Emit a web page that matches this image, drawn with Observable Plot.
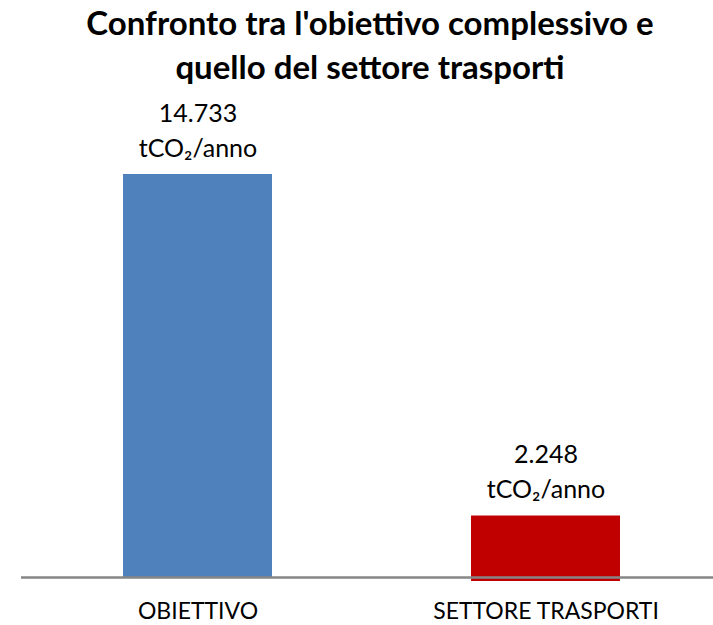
<!DOCTYPE html>
<html>
<head>
<meta charset="utf-8">
<script src="https://cdn.jsdelivr.net/npm/d3@7"></script>
<script src="https://cdn.jsdelivr.net/npm/@observablehq/plot@0.6"></script>
<style>
  html, body { margin: 0; padding: 0; background: #fff; }
  #title { width: 713px; height: 88px; text-align: center; font-family: Lato, "Open Sans", sans-serif; font-weight: 700; font-size: 33px; line-height: 44px; color: #000; padding-left: 27px; padding-top: 0px; box-sizing: border-box; white-space: nowrap; }
  #chart svg { display: block; }
</style>
</head>
<body>
<div id="title">Confronto tra l'obiettivo complessivo e<br>quello del settore trasporti</div>
<div id="chart"></div>
<script>
const categories = ["OBIETTIVO", "SETTORE TRASPORTI"];
const values = [14733, 2248];
const valueLabels = ["14.733", "2.248"];
const unitLabel = "tCO₂/anno";
const colors = ["#4F81BD", "#C00000"];

const data = categories.map((c, i) => ({ cat: c, value: values[i], label: valueLabels[i], color: colors[i] }));

const chart = Plot.plot({
  width: 713,
  height: 537,
  marginLeft: 21,
  marginRight: 0,
  marginTop: 86,
  marginBottom: 48,
  style: { fontFamily: "Lato, 'Open Sans', sans-serif", background: "#fff" },
  x: { domain: categories, paddingInner: 0.573, paddingOuter: 0.278, align: 0.523, label: null },
  y: { domain: [0, values[0]], axis: null },
  color: { domain: categories, range: colors },
  marks: [
    Plot.barY(data.filter(d => d.cat === categories[0]), { x: "cat", y: "value", fill: d => d.color }),
    Plot.barY(data.filter(d => d.cat === categories[1]), { x: "cat", y: "value", fill: d => d.color, insetBottom: -4 }),
    Plot.ruleY([0], { stroke: "#868686", strokeWidth: 2.5 }),
    Plot.text(data, { x: "cat", y: "value", text: "label", dy: -61, fontSize: 25, fill: "#000" }),
    Plot.text(data, { x: "cat", y: "value", text: () => unitLabel, dy: -26, fontSize: 25, fill: "#000" }),
    Plot.axisX({ tickSize: 0, tickPadding: 25, fontSize: 23, color: "#000", label: null })
  ]
});
document.getElementById("chart").appendChild(chart);
</script>
</body>
</html>
